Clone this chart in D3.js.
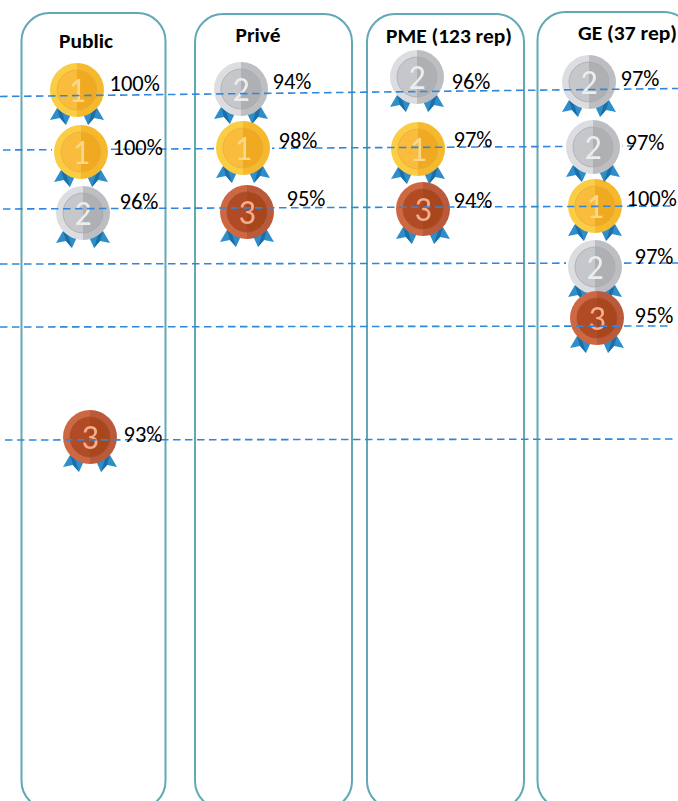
<!DOCTYPE html>
<html><head><meta charset="utf-8">
<script src="https://cdnjs.cloudflare.com/ajax/libs/d3/7.8.5/d3.min.js"></script>
<style>html,body{margin:0;padding:0;background:#fff;overflow:hidden}svg{display:block}text{font-family:Carlito,Lato,"Open Sans",sans-serif}</style>
</head><body><div id="c"></div>
<script>
// ---- data ----
const panels = ["Public", "Privé", "PME (123 rep)", "GE (37 rep)"];
const rows = [0, 1, 2, 3, 4, 5];
const panelOf = ["Public","Public","Public","Public","Privé","Privé","Privé","PME (123 rep)","PME (123 rep)","PME (123 rep)","GE (37 rep)","GE (37 rep)","GE (37 rep)","GE (37 rep)","GE (37 rep)"];
const rowOf   = [0,1,2,5, 0,1,2, 0,1,2, 0,1,2,3,4];
const rankOf  = [1,1,2,3, 2,1,3, 2,1,3, 2,2,1,2,3];
const valueOf = [100,100,96,93, 94,98,95, 96,97,94, 97,97,100,97,95];
const aboveLine = [true,false,true,true, true,false,true, true,true,true, true,false,true,false,true];

const W = 678, H = 801;
const records = panelOf.map((p,i)=>({panel:p,row:rowOf[i],rank:rankOf[i],value:valueOf[i],above:aboveLine[i],key:i}));

// ---- layout scales ----
const panelLeft  = d3.scaleOrdinal().domain(panels).range([21.5,195,367,537.5]);
const panelRight = d3.scaleOrdinal().domain(panels).range([165.5,352,524,692]);
const panelTop   = d3.scaleOrdinal().domain(panels).range([13,14,14,12]);
const titleX = d3.scaleOrdinal().domain(panels).range([86,258,449,627.5]);
const titleY = d3.scaleOrdinal().domain(panels).range([47.5,41.5,42.5,39.5]);
const titleW = d3.scaleOrdinal().domain(panels).range([54,45,126,99]);
const keys = records.map(d=>d.key);
const medalX = d3.scaleOrdinal().domain(keys).range([77,81,83,90, 241,243,247, 417,418,423, 589,593,595,595,597]);
const medalY = d3.scaleOrdinal().domain(keys).range([90,152,213,437, 89,148,212, 77,149,209, 82,147,206,267,318]);
const labelX = d3.scaleOrdinal().domain(keys).range([109.5,112.5,119.5,123.5, 272.5,278.5,286.5, 451.5,453.5,453.5, 620.5,625.5,626.5,634.5,634.5]);
const labelY = d3.scaleOrdinal().domain(keys).range([91,155,209,442, 89,148,206, 89,147,208, 86,150,206,264,323]);
const lineX0 = d3.scaleOrdinal().domain(rows).range([0,3,3,0,0,5]);
const lineX1 = d3.scaleOrdinal().domain(rows).range([678,634,675,678,672,675]);
const lineY0 = d3.scaleOrdinal().domain(rows).range([96.5,150,209,264,327,440]);
const lineY1 = d3.scaleOrdinal().domain(rows).range([88.5,146,206,263,326,439]);

const palette = {
 1:{ol:"#fbcd45",or:"#f6b92e",il:"#f9bc3c",ir:"#efaa24",ring:"#e9ad3a",num:"#fbd98a"},
 2:{ol:"#dcdde0",or:"#bdbec1",il:"#c5c7cb",ir:"#aeb0b3",ring:"#a9abae",num:"#eceded"},
 3:{ol:"#cd6843",or:"#bb5a3a",il:"#b04c26",ir:"#a8471f",ring:"#a5502f",num:"#f6ae8f"}
};

const svg = d3.select("#c").append("svg").attr("width",W).attr("height",H).attr("viewBox",[0,0,W,H]);
const defs = svg.append("defs");
defs.append("filter").attr("id","soft").attr("x","-10%").attr("y","-10%").attr("width","120%").attr("height","120%")
  .append("feGaussianBlur").attr("stdDeviation",0.45);

// panels
svg.append("g").selectAll("rect").data(panels).join("rect")
  .attr("x",panelLeft).attr("y",panelTop)
  .attr("width",p=>panelRight(p)-panelLeft(p))
  .attr("height",p=>H+8-panelTop(p))
  .attr("rx",28).attr("ry",28)
  .attr("fill","none").attr("stroke","#62a9b6").attr("stroke-width",2);

function drawMedals(sel){
  const g = sel.selectAll("g.medal").data(d=>d).join("g").attr("class","medal")
    .attr("transform",d=>`translate(${medalX(d.key)},${medalY(d.key)})`);
  g.filter(d=>!d.above).append("rect").attr("x",-29).attr("y",-12).attr("width",58).attr("height",24).attr("fill","#fff");
  const art = g.append("g").attr("filter","url(#soft)");
  const ribbon = [[-20,18],[-27,30],[-17,28],[-11,35],[-6,24]];
  [1,-1].forEach(s=>{
    art.append("path").attr("d",d3.line()(ribbon.map(([x,y])=>[s*x,y]))+"Z").attr("fill","#2f8ec9");
    art.append("path").attr("d",d3.line()([[s*-20,18],[s*-15,22],[s*-11,35],[s*-17,28]])+"Z").attr("fill","#1a6ea8");
  });
  const half = (r,side)=>d3.arc().innerRadius(0).outerRadius(r).startAngle(side<0?-Math.PI:0).endAngle(side<0?0:Math.PI)();
  art.append("path").attr("d",half(27,-1)).attr("fill",d=>palette[d.rank].ol);
  art.append("path").attr("d",half(27,1)).attr("fill",d=>palette[d.rank].or);
  art.append("path").attr("d",half(20,-1)).attr("fill",d=>palette[d.rank].il);
  art.append("path").attr("d",half(20,1)).attr("fill",d=>palette[d.rank].ir);
  art.append("circle").attr("r",20).attr("fill","none").attr("stroke",d=>palette[d.rank].ring).attr("stroke-width",0.8);
  art.append("text").attr("text-anchor","middle").attr("y",12).attr("font-size",34)
    .attr("fill",d=>palette[d.rank].num).text(d=>d.rank);
}
function drawLines(sel){
  sel.selectAll("line").data(d=>d).join("line")
    .attr("x1",lineX0).attr("y1",lineY0).attr("x2",lineX1).attr("y2",lineY1)
    .attr("stroke","#2f86dc").attr("stroke-width",1.6).attr("stroke-dasharray","7.5 4.5");
}

// stacking: most medals, most lines, medals that mask a line, then the lowest GE medal with its line
svg.append("g").datum(records.filter(d=>d.above && d.row!==4)).call(drawMedals);
svg.append("g").datum(rows.filter(r=>r!==4)).call(drawLines);
svg.append("g").datum(records.filter(d=>!d.above)).call(drawMedals);
svg.append("g").datum(records.filter(d=>d.row===4)).call(drawMedals);
svg.append("g").datum(rows.filter(r=>r===4)).call(drawLines);

// titles
svg.append("g").selectAll("text").data(panels).join("text")
  .attr("x",titleX).attr("y",titleY).attr("text-anchor","middle")
  .attr("font-size",19.5).attr("font-weight",700).attr("fill","#000")
  .attr("textLength",titleW).attr("lengthAdjust","spacingAndGlyphs").text(d=>d);

// value labels
svg.append("g").selectAll("text").data(records).join("text")
  .attr("x",d=>labelX(d.key)).attr("y",d=>labelY(d.key))
  .attr("font-size",22.5).attr("fill","#000").text(d=>d.value+"%");
</script></body></html>
